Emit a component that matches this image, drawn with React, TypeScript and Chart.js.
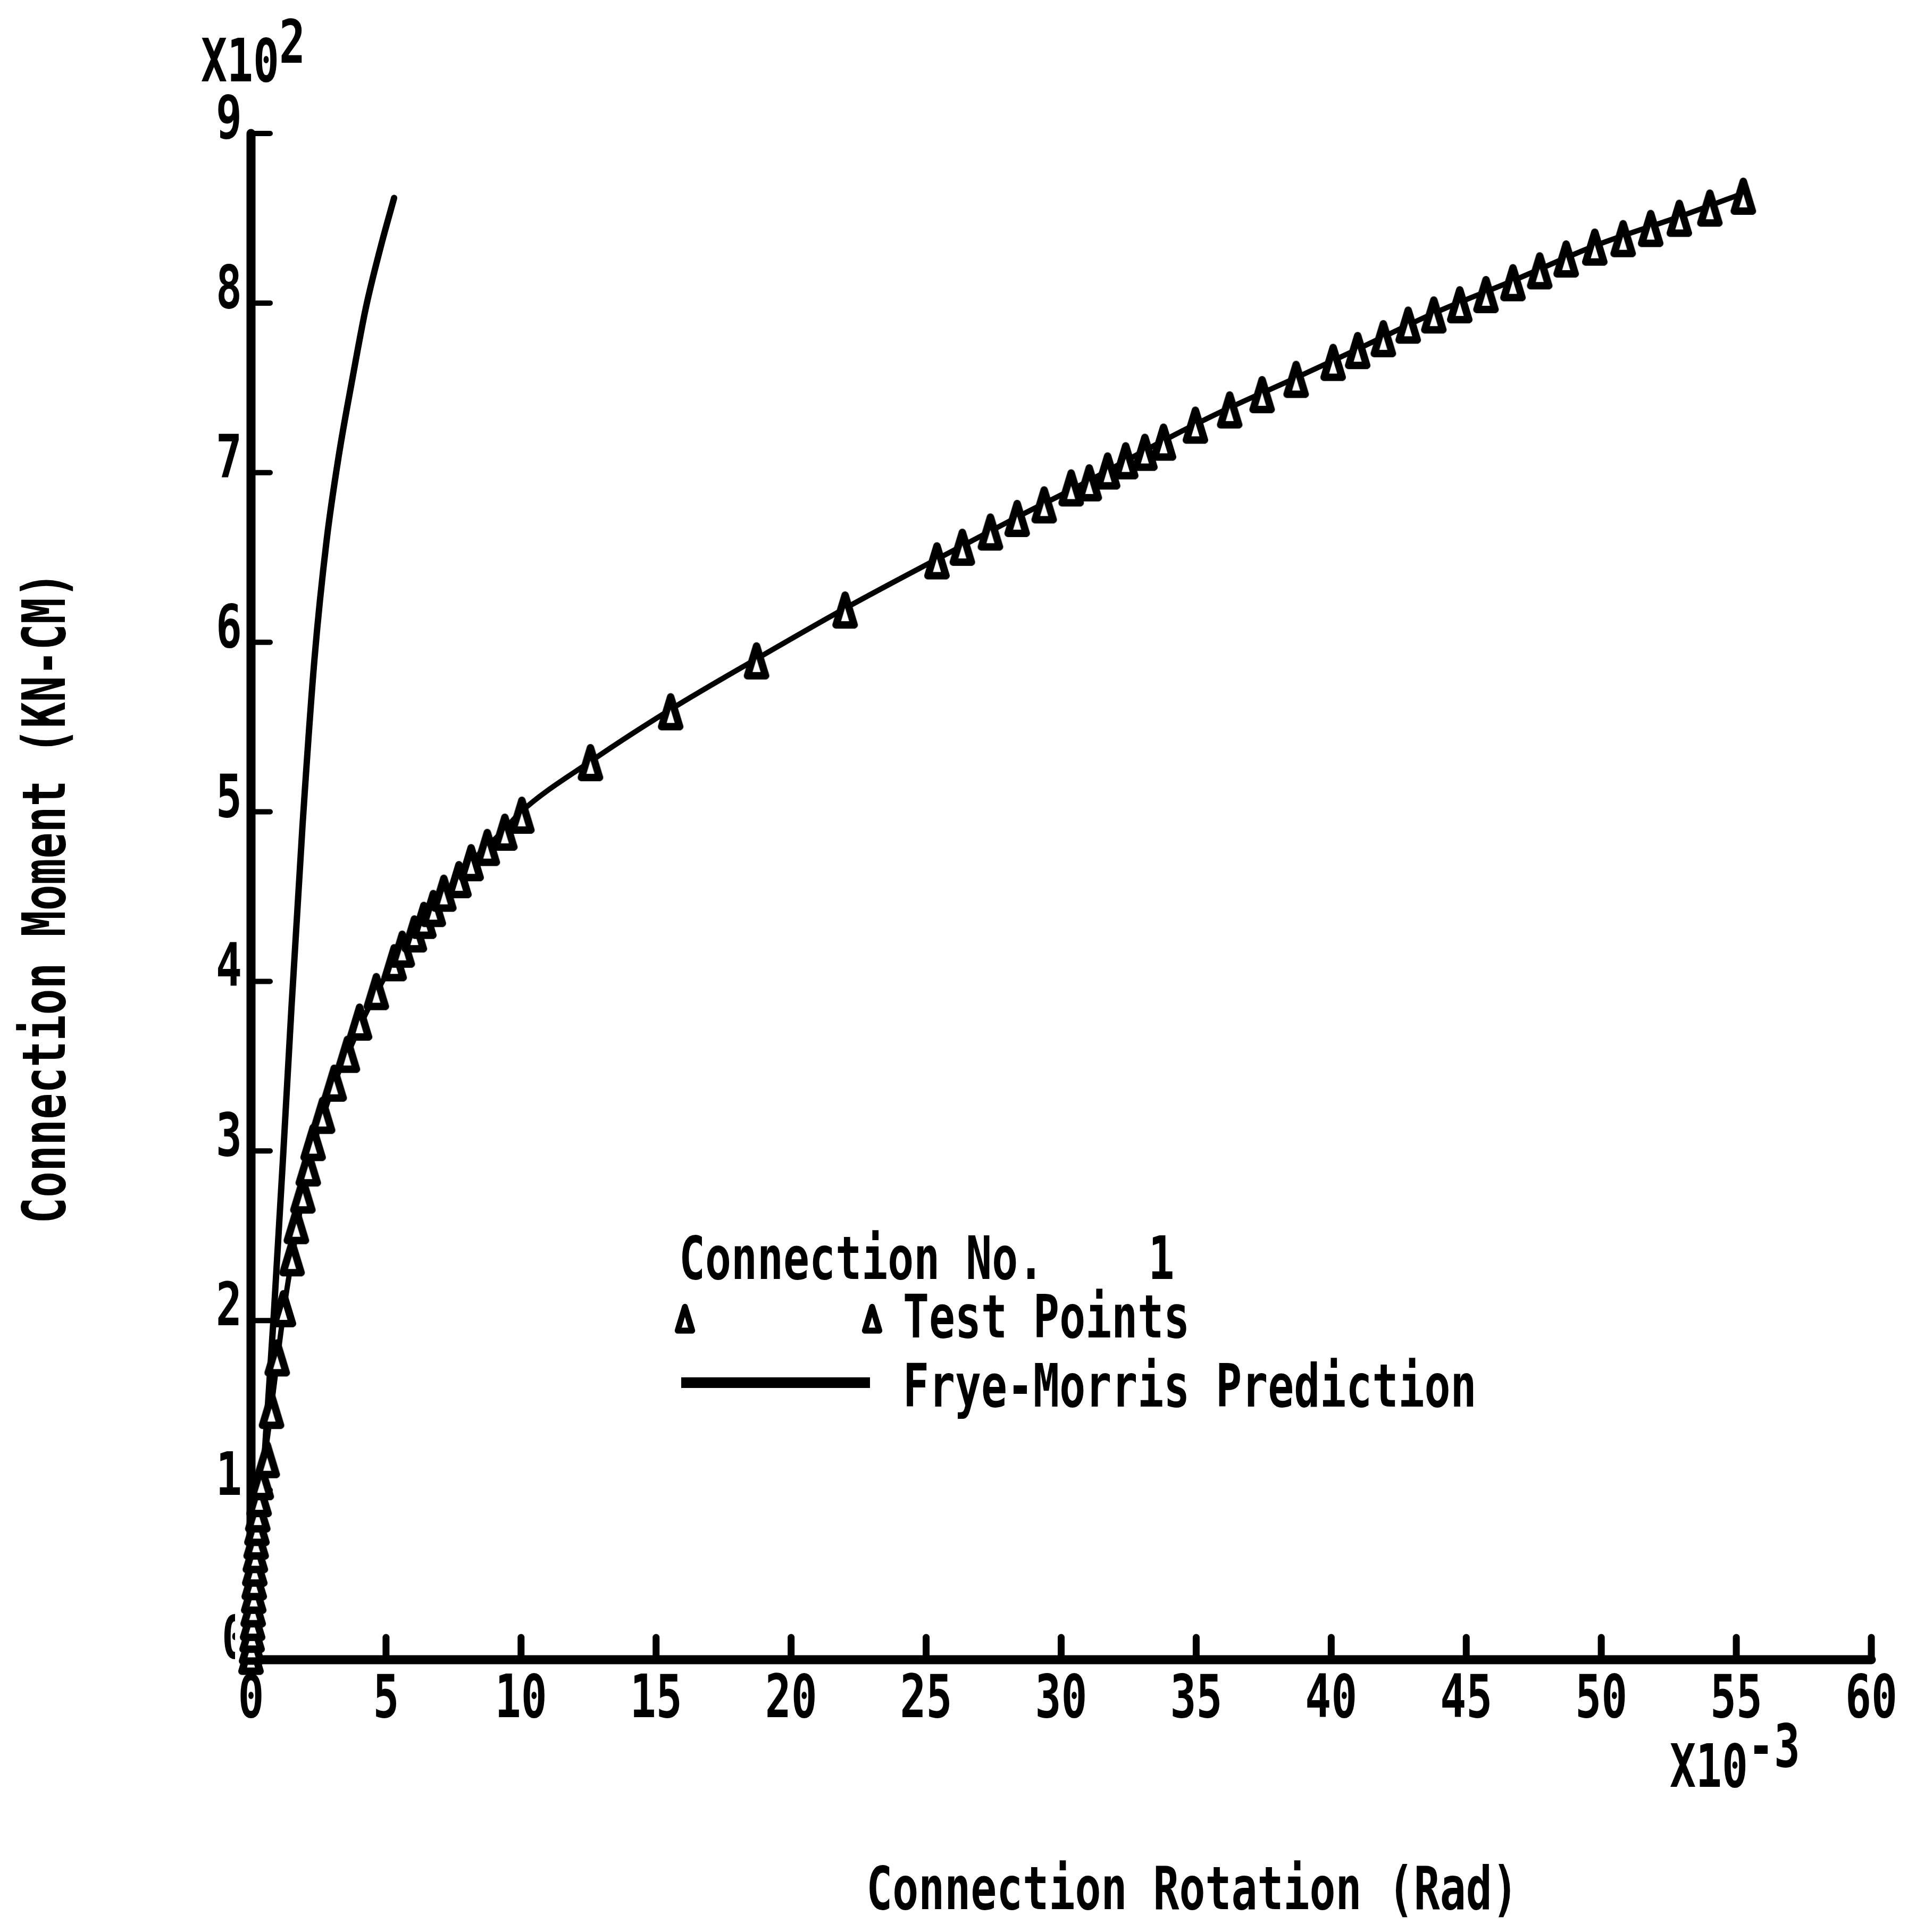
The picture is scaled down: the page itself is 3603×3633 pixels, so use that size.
import React, { useEffect, useRef } from "react";
import { Chart, registerables } from "chart.js";

Chart.register(...registerables);

const CANVAS_W = 3603;
const CANVAS_H = 3633;

// Axis ticks
const xTickValues = [0, 5, 10, 15, 20, 25, 30, 35, 40, 45, 50, 55, 60];
const xTickLabels = ["0", "5", "10", "15", "20", "25", "30", "35", "40", "45", "50", "55", "60"];
const yTickValues = [0, 1, 2, 3, 4, 5, 6, 7, 8, 9];
const yTickLabels = ["0", "1", "2", "3", "4", "5", "6", "7", "8", "9"];

// Test points: rotation (x10^-3 rad), moment (x10^2 kN-cm)
const testRotation = [
  0, 0.02, 0.04, 0.06, 0.08, 0.1, 0.12, 0.14, 0.16, 0.19,
  0.22, 0.25, 0.3, 0.38, 0.6, 0.76, 0.97, 1.2, 1.52, 1.68,
  1.92, 2.12, 2.3, 2.65, 3.08, 3.57, 4.02, 4.64, 5.3, 5.6,
  6.05, 6.4, 6.75, 7.14, 7.7, 8.15, 8.75, 9.4, 10.03, 12.57,
  15.54, 18.72, 22.0, 25.4, 26.34, 27.38, 28.37, 29.37, 30.37, 31.04,
  31.72, 32.39, 33.1, 33.79, 34.97, 36.24, 37.44, 38.7, 40.07, 40.98,
  41.93, 42.85, 43.8, 44.76, 45.73, 46.73, 47.72, 48.7, 49.76, 50.81,
  51.83, 52.89, 54.02, 55.26,
];
const testMoment = [
  0.02, 0.08, 0.15, 0.22, 0.3, 0.38, 0.46, 0.54, 0.62, 0.7,
  0.78, 0.86, 0.95, 1.05, 1.18, 1.47, 1.78, 2.07, 2.37, 2.56,
  2.74, 2.9, 3.05, 3.21, 3.4, 3.57, 3.76, 3.94, 4.11, 4.19,
  4.28, 4.36, 4.43, 4.52, 4.6, 4.7, 4.79, 4.88, 4.98, 5.29,
  5.59, 5.89, 6.19, 6.48, 6.56, 6.65, 6.73, 6.81, 6.91, 6.94,
  7.01, 7.07, 7.12, 7.18, 7.28, 7.37, 7.46, 7.55, 7.65, 7.72,
  7.79, 7.87, 7.93, 7.99, 8.05, 8.12, 8.19, 8.26, 8.33, 8.38,
  8.44, 8.5, 8.56, 8.63,
];

// Frye-Morris prediction curve
const fmRotation = [
  0, 0.1, 0.2, 0.35, 0.6, 0.8, 1.0, 1.25, 1.55, 1.9,
  2.3, 2.7, 3.1, 3.6, 4.1, 4.7, 5.3, 6.0, 6.8, 7.6,
  8.5, 9.3, 10.0, 12.6, 15.5, 18.7, 22.0, 25.4, 28.4, 31.0,
  33.8, 36.2, 38.7, 41.0, 43.8, 46.7, 49.8, 52.9, 55.3,
];
const fmMoment = [
  0, 0.45, 0.8, 1.05, 1.3, 1.55, 1.8, 2.1, 2.4, 2.72,
  3.03, 3.22, 3.41, 3.58, 3.76, 3.95, 4.12, 4.28, 4.45, 4.6,
  4.76, 4.88, 5.0, 5.3, 5.6, 5.9, 6.2, 6.49, 6.74, 6.95,
  7.19, 7.38, 7.56, 7.73, 7.94, 8.13, 8.34, 8.51, 8.65,
];

// Steep (unlabelled) curve
const steepRotation = [0, 0.4, 0.85, 1.2, 1.5, 1.9, 2.35, 2.8, 3.25, 3.75, 4.25, 4.8, 5.3];
const steepMoment = [0, 0.95, 2.05, 3.0, 3.85, 4.9, 5.9, 6.6, 7.1, 7.55, 7.97, 8.33, 8.62];

const FONT = '"DejaVu Sans Mono", "Liberation Mono", monospace';
const FSIZE = 112;
const SX = 0.727;

function makeTriangle(scale: number): HTMLCanvasElement {
  const c = document.createElement("canvas");
  const w = Math.round(50 * scale);
  const h = Math.round(72 * scale);
  c.width = w;
  c.height = h;
  const g = c.getContext("2d") as CanvasRenderingContext2D;
  g.scale(scale, scale);
  g.lineJoin = "round";
  g.lineWidth = 14;
  g.beginPath();
  g.moveTo(25, 8);
  g.lineTo(42, 64);
  g.lineTo(8, 64);
  g.closePath();
  g.fillStyle = "#fff";
  g.fill();
  g.strokeStyle = "#000";
  g.stroke();
  return c;
}

function txt(ctx: CanvasRenderingContext2D, s: string, x: number, y: number, align: CanvasTextAlign = "left") {
  ctx.save();
  ctx.translate(x, y);
  ctx.scale(SX, 1);
  ctx.font = `bold ${FSIZE}px ${FONT}`;
  ctx.textAlign = align;
  ctx.textBaseline = "alphabetic";
  ctx.fillStyle = "#000";
  ctx.fillText(s, 0, 0);
  ctx.restore();
}

export default function App() {
  const ref = useRef<HTMLCanvasElement | null>(null);

  useEffect(() => {
    document.body.style.margin = "0";
    const canvas = ref.current;
    if (!canvas) return;
    const tri = makeTriangle(1);
    const legendTri = makeTriangle(0.8);

    const paperPlugin = {
      id: "paper",
      beforeDraw(chart: any) {
        const ctx = chart.ctx as CanvasRenderingContext2D;
        ctx.save();
        ctx.fillStyle = "#fff";
        ctx.fillRect(0, 0, chart.width, chart.height);
        ctx.restore();
      },
      beforeDatasetsDraw(chart: any) {
        const ctx = chart.ctx as CanvasRenderingContext2D;
        const xs = chart.scales.x;
        const ys = chart.scales.y;
        const x0 = xs.getPixelForValue(0);
        const x60 = xs.getPixelForValue(60);
        const y0 = ys.getPixelForValue(0);
        const y9 = ys.getPixelForValue(9);
        ctx.save();
        ctx.strokeStyle = "#000";
        ctx.lineCap = "round";
        // axes
        ctx.lineWidth = 17;
        ctx.beginPath();
        ctx.moveTo(x0, y0 + 6);
        ctx.lineTo(x0, y9);
        ctx.stroke();
        ctx.beginPath();
        ctx.moveTo(x0, y0);
        ctx.lineTo(x60, y0);
        ctx.stroke();
        // y ticks (inward)
        ctx.lineWidth = 10;
        yTickValues.forEach((v) => {
          if (v === 0) return;
          const py = ys.getPixelForValue(v);
          ctx.beginPath();
          ctx.moveTo(x0, py);
          ctx.lineTo(x0 + 36, py);
          ctx.stroke();
        });
        // x ticks (inward)
        ctx.lineWidth = 13;
        xTickValues.forEach((v) => {
          if (v === 0) return;
          const px = xs.getPixelForValue(v);
          ctx.beginPath();
          ctx.moveTo(px, y0);
          ctx.lineTo(px, y0 - 42);
          ctx.stroke();
        });
        ctx.restore();

        // tick labels
        yTickValues.forEach((v, i) => {
          const py = ys.getPixelForValue(v);
          if (v === 0) {
            // partly hidden by the data pile at the origin, as in the original
            ctx.save();
            ctx.beginPath();
            ctx.rect(0, 0, 442, CANVAS_H);
            ctx.clip();
            txt(ctx, yTickLabels[i], 466, py - 3, "right");
            ctx.restore();
          } else {
            txt(ctx, yTickLabels[i], 455, py + 9, "right");
          }
        });
        xTickValues.forEach((v, i) => {
          const px = xs.getPixelForValue(v);
          txt(ctx, xTickLabels[i], px, y0 + 108, "center");
        });
      },
      afterDatasetsDraw(chart: any) {
        const ctx = chart.ctx as CanvasRenderingContext2D;
        // multipliers
        txt(ctx, "X10", 378, 153);
        txt(ctx, "2", 525, 118);
        txt(ctx, "X10", 3140, 3360);
        txt(ctx, "-3", 3287, 3322);

        // axis titles
        txt(ctx, "Connection Rotation (Rad)", 2242, 3590, "center");
        ctx.save();
        ctx.translate(122, 1688);
        ctx.rotate(-Math.PI / 2);
        ctx.scale(SX, 1);
        ctx.font = `bold ${FSIZE}px ${FONT}`;
        ctx.textAlign = "center";
        ctx.textBaseline = "alphabetic";
        ctx.fillStyle = "#000";
        ctx.fillText("Connection Moment (KN-CM)", 0, 0);
        ctx.restore();

        // legend block
        txt(ctx, "Connection No.    1", 1277, 2405);
        ctx.drawImage(legendTri, 1288 - legendTri.width / 2, 2480 - legendTri.height / 2);
        ctx.drawImage(legendTri, 1640 - legendTri.width / 2, 2480 - legendTri.height / 2);
        txt(ctx, "Test Points", 1698, 2515);
        ctx.save();
        ctx.strokeStyle = "#000";
        ctx.lineWidth = 20;
        ctx.beginPath();
        ctx.moveTo(1281, 2600);
        ctx.lineTo(1636, 2600);
        ctx.stroke();
        ctx.restore();
        txt(ctx, "Frye-Morris Prediction", 1698, 2645);
      },
    };

    const chart = new Chart(canvas, {
      type: "scatter",
      data: {
        datasets: [
          {
            label: "Test Points",
            data: testRotation.map((x, i) => ({ x, y: testMoment[i] })),
            showLine: false,
            pointStyle: tri as any,
            pointRadius: 20,
            borderColor: "#000",
            backgroundColor: "#fff",
            clip: false as any,
          },
          {
            label: "Frye-Morris Prediction",
            data: fmRotation.map((x, i) => ({ x, y: fmMoment[i] })),
            showLine: true,
            borderColor: "#000",
            borderWidth: 10,
            pointRadius: 0,
            cubicInterpolationMode: "monotone",
            borderJoinStyle: "round",
            borderCapStyle: "round",
            clip: false as any,
          },
          {
            label: "",
            data: steepRotation.map((x, i) => ({ x, y: steepMoment[i] })),
            showLine: true,
            borderColor: "#000",
            borderWidth: 12,
            pointRadius: 0,
            cubicInterpolationMode: "monotone",
            borderJoinStyle: "round",
            borderCapStyle: "round",
            clip: false as any,
          },
        ],
      },
      options: {
        responsive: false,
        animation: false,
        devicePixelRatio: 1,
        events: [],
        layout: { padding: { left: 472, right: 84, top: 251, bottom: 512 } },
        scales: {
          x: { type: "linear", min: 0, max: 60, display: false },
          y: { type: "linear", min: 0, max: 9, display: false },
        },
        plugins: {
          legend: { display: false },
          tooltip: { enabled: false },
        },
      },
      plugins: [paperPlugin as any],
    });

    return () => {
      chart.destroy();
    };
  }, []);

  return (
    <div style={{ position: "absolute", left: 0, top: 0, width: CANVAS_W, height: CANVAS_H, background: "#fff" }}>
      <canvas ref={ref} width={CANVAS_W} height={CANVAS_H} style={{ width: CANVAS_W, height: CANVAS_H, display: "block" }} />
    </div>
  );
}
